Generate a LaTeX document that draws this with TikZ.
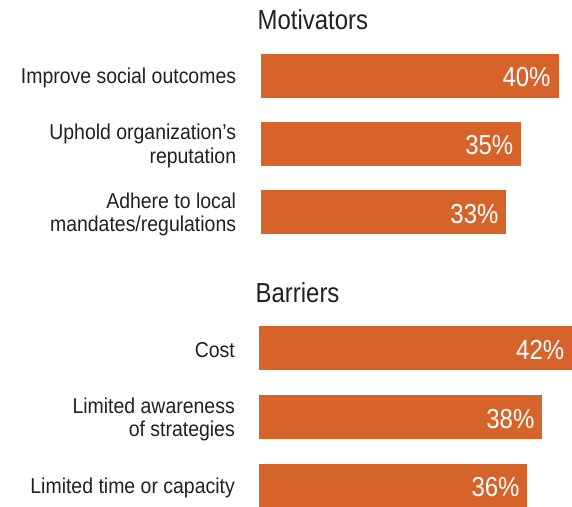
\documentclass[tikz,border=0pt]{standalone}
\usepackage{fontspec}
\setmainfont[FakeStretch=0.905]{Liberation Sans}
\newfontfamily\headfont[FakeStretch=0.87]{Liberation Sans}
\usepackage{xcolor}
\usetikzlibrary{positioning}

\definecolor{barorange}{HTML}{D6632A}
\definecolor{inkgray}{HTML}{231F20}

\tikzset{
    bar/.style={fill=barorange, draw=none, inner sep=0pt, minimum height=44pt, anchor=west},
    pct/.style={text=white, inner sep=0pt, yshift=-1.5pt, font=\headfont\fontsize{27.5}{30}\selectfont},
    heading/.style={text=inkgray, inner sep=0pt, anchor=base west, font=\headfont\fontsize{27.5}{30}\selectfont},
    rowlabel/.style={text=inkgray, inner sep=0pt, align=right, yshift=-2pt, font=\fontsize{21.5}{23.3}\selectfont}
}

\begin{document}
\begin{tikzpicture}[x=1pt, y=-1pt]
    \useasboundingbox (0,0) rectangle (572,506);
    % motivators
    \node[heading] (motiv) at (257.5,29.3) {Motivators};
    \foreach \val/\name/\y/\txt in {40/m1/75.5/{Improve social outcomes},
            35/m2/144/{Uphold organization’s\\reputation},
            33/m3/212.3/{Adhere to local\\mandates/regulations}} {
        \node[bar, minimum width=\val*7.45pt] (\name) at (260.3,\y) {};
        \node[pct, left=8pt of \name.east] {\val\%};
        \node[rowlabel, left=24pt of \name] {\txt};
    }
    % barriers
    \node[heading] (barr) at (255.5,302.3) {Barriers};
    \foreach \val/\name/\y/\txt in {42/b1/348.3/{Cost},
            38/b2/417.3/{Limited awareness\\of strategies},
            36/b3/485.7/{Limited time or capacity}} {
        \node[bar, minimum width=\val*7.45pt] (\name) at (259,\y) {};
        \node[pct, left=8pt of \name.east] {\val\%};
        \node[rowlabel, left=24pt of \name] {\txt};
    }
\end{tikzpicture}
\end{document}
